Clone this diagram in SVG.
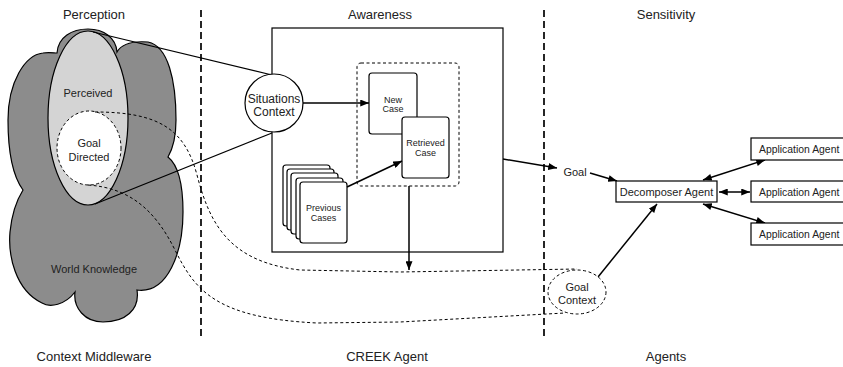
<svg xmlns="http://www.w3.org/2000/svg" width="843" height="367" viewBox="0 0 843 367">
<defs>
<marker id="ah" viewBox="0 0 10 8" refX="10" refY="4" markerWidth="9" markerHeight="7" markerUnits="userSpaceOnUse" orient="auto-start-reverse">
<path d="M0,0 L10,4 L0,8 Z" fill="#000"/>
</marker>
</defs>
<style>
text{font-family:"Liberation Sans",Arial,sans-serif;fill:#222;text-anchor:middle}
.t{font-size:13px}
.m{font-size:11px}
.s{font-size:9px}
.app{font-size:10.4px;text-anchor:start}
.box{fill:#fff;stroke:#000;stroke-width:1.2}
.ln{fill:none;stroke:#000;stroke-width:1.2}
.arr{fill:none;stroke:#000;stroke-width:1.5;marker-end:url(#ah)}
.arr2{fill:none;stroke:#000;stroke-width:1.5;marker-end:url(#ah);marker-start:url(#ah)}
.dsh{fill:none;stroke:#000;stroke-width:1;stroke-dasharray:3 2.5}
.sep{fill:none;stroke:#000;stroke-width:1.7;stroke-dasharray:7 4}
</style>

<g id="separators">
<line class="sep" x1="201" y1="10" x2="201" y2="337"/>
<line class="sep" x1="544" y1="10" x2="544" y2="337"/>
</g>

<g id="titles">
<text class="t" x="94" y="19">Perception</text>
<text class="t" x="380" y="19">Awareness</text>
<text class="t" x="666" y="19">Sensitivity</text>
<text class="t" x="94" y="361">Context Middleware</text>
<text class="t" x="387" y="361">CREEK Agent</text>
<text class="t" x="666" y="361">Agents</text>
</g>

<g id="world-knowledge">
<path d="M57,53 C58,37 72,29 88,29 C104,29 116,38 117,52 C122,43 135,41 148,42 C168,46 176,80 176,120 C176,140 172,150 168,157 C178,165 183,185 183,212 C183,252 168,294 137,290 C140,310 125,322 103,322 C85,322 73,308 75,292 C65,305 50,308 42,303 C15,290 8,255 10,232 C12,212 18,198 23,190 C12,175 8,150 8,120 C8,82 25,55 43,53 C49,52 54,53 57,53 Z" fill="#8c8c8c" stroke="#000" stroke-width="1.2"/>
<text class="m" x="94" y="273">World Knowledge</text>
</g>

<g id="perceived">
<ellipse cx="88" cy="118" rx="40" ry="87" fill="#d4d4d4" stroke="#000" stroke-width="1.2"/>
<text class="m" x="88" y="97">Perceived</text>
</g>

<g id="goal-directed">
<ellipse cx="89" cy="148" rx="32" ry="37" fill="#fff" stroke="#000" stroke-width="1" stroke-dasharray="3 2.5"/>
<text class="m" x="89" y="147">Goal</text>
<text class="m" x="89" y="161">Directed</text>
</g>

<g id="awareness">
<rect class="box" x="272" y="28" width="231" height="224"/>
</g>

<g id="case-box">
<rect x="357" y="63" width="102" height="123" rx="4" class="dsh"/>
</g>

<g id="previous-cases">
<rect class="box" x="283" y="165" width="47" height="61" rx="3"/>
<rect class="box" x="287" y="169" width="47" height="61" rx="3"/>
<rect class="box" x="291" y="173" width="47" height="61" rx="3"/>
<rect class="box" x="296" y="178" width="47" height="61" rx="3"/>
<rect class="box" x="300" y="182" width="47" height="61" rx="3"/>
<text class="s" x="323.5" y="211">Previous</text>
<text class="s" x="323.5" y="221">Cases</text>
</g>

<g id="new-case">
<rect class="box" x="369" y="73" width="48" height="61" rx="3"/>
<text class="s" x="393" y="103">New</text>
<text class="s" x="393" y="112">Case</text>
</g>

<g id="retrieved-case">
<rect class="box" x="402" y="117" width="47" height="61" rx="3"/>
<text class="s" x="425.5" y="146">Retrieved</text>
<text class="s" x="425.5" y="156">Case</text>
</g>

<g id="connectors">
<line class="ln" x1="93" y1="32" x2="272" y2="75"/>
<line class="ln" x1="95" y1="204" x2="272" y2="133"/>
<path class="dsh" d="M95,112 C160,112 185,130 197,175 C210,225 230,262 300,270 L400,272 L577,269"/>
<path class="dsh" d="M88,185 C130,188 155,210 175,250 C195,290 215,318 317,323 L400,322 L565,313"/>
<line class="arr" x1="303" y1="103" x2="369" y2="103"/>
<line class="arr" x1="347" y1="187" x2="402" y2="161"/>
<line class="arr" x1="409" y1="186" x2="409" y2="270"/>
<line class="arr" x1="503" y1="159" x2="557" y2="168"/>
<line class="arr" x1="590" y1="173" x2="617" y2="181"/>
<line class="arr" x1="598" y1="277" x2="657" y2="204"/>
<line class="arr2" x1="703" y1="180" x2="765" y2="160"/>
<line class="arr2" x1="719" y1="192" x2="750" y2="192"/>
<line class="arr2" x1="703" y1="204" x2="765" y2="223"/>
</g>

<g id="situations-context">
<circle cx="274" cy="103" r="29" fill="#fff" stroke="#000" stroke-width="1.2"/>
<text style="font-size:12px" x="274" y="103">Situations</text>
<text style="font-size:12px" x="274" y="116">Context</text>
</g>

<g id="goal">
<text class="m" x="575" y="176">Goal</text>
</g>

<g id="goal-context">
<ellipse cx="577" cy="292" rx="29" ry="22" fill="#fff" stroke="#000" stroke-width="1" stroke-dasharray="3 2.5"/>
<text class="m" x="577" y="291">Goal</text>
<text class="m" x="577" y="304">Context</text>
</g>

<g id="decomposer-agent">
<rect class="box" x="616" y="181" width="101" height="21"/>
<text class="m" x="666.5" y="196">Decomposer Agent</text>
</g>

<g id="app-agent-1">
<rect class="box" x="751" y="138" width="100" height="22"/>
<text class="app" x="759" y="153">Application Agent</text>
</g>
<g id="app-agent-2">
<rect class="box" x="751" y="181" width="100" height="21"/>
<text class="app" x="759" y="196">Application Agent</text>
</g>
<g id="app-agent-3">
<rect class="box" x="751" y="223" width="100" height="22"/>
<text class="app" x="759" y="238">Application Agent</text>
</g>
</svg>
